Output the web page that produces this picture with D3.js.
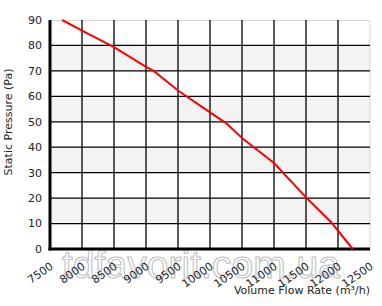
<!DOCTYPE html>
<html>
<head>
<meta charset="utf-8">
<script src="https://cdn.jsdelivr.net/npm/d3@7"></script>
<style>
  body { margin: 0; background: #fff; }
  svg { display: block; font-family: "DejaVu Sans", sans-serif; }
</style>
</head>
<body>
<div class="chart"></div>
<script>
'use strict';
(function() {
  // Data
  var flowRate = [7690, 8000, 8500, 9000, 9120, 9500, 10000, 10250, 10500, 11000, 11500, 11900, 12230];
  var pressure = [90, 85.8, 79.3, 71.6, 70, 62.3, 53.7, 49.5, 43.6, 33.8, 20.3, 10.3, 0];
  var xTicks = [7500, 8000, 8500, 9000, 9500, 10000, 10500, 11000, 11500, 12000, 12500];
  var yTicks = [0, 10, 20, 30, 40, 50, 60, 70, 80, 90];

  var w = 382;
  var h = 306;
  var left = 50, right = 370, top = 20, bottom = 249;

  var svg = d3.select(".chart")
    .append("svg")
    .attr("width", w)
    .attr("height", h);

  var xScale = d3.scaleLinear().domain([7500, 12500]).range([left, right]);
  var yScale = d3.scaleLinear().domain([0, 90]).range([bottom, top]);

  // Alternating bands
  svg.append("g")
    .selectAll("rect")
    .data(yTicks.slice(0, -1).filter(function(d) { return (d / 10) % 2 === 1; }))
    .enter()
    .append("rect")
    .attr("x", left)
    .attr("width", right - left)
    .attr("y", function(d) { return yScale(d + 10); })
    .attr("height", function(d) { return yScale(d) - yScale(d + 10); })
    .attr("fill", "#f3f3f3");

  // Frame
  svg.append("rect")
    .attr("x", left + 0.5)
    .attr("y", top + 0.5)
    .attr("width", right - left - 0.5)
    .attr("height", bottom - top)
    .attr("fill", "none")
    .attr("stroke", "#d8d8d8");

  // Grid
  var grid = svg.append("g").attr("stroke", "#000").attr("stroke-width", 1.3);
  grid.selectAll("line.v")
    .data(xTicks.slice(1, -1))
    .enter()
    .append("line")
    .attr("x1", function(d) { return xScale(d); })
    .attr("x2", function(d) { return xScale(d); })
    .attr("y1", top)
    .attr("y2", bottom);
  grid.selectAll("line.h")
    .data(yTicks.slice(1, -1))
    .enter()
    .append("line")
    .attr("x1", left)
    .attr("x2", right)
    .attr("y1", function(d) { return yScale(d); })
    .attr("y2", function(d) { return yScale(d); });

  // Watermark
  svg.append("text")
    .attr("x", 62)
    .attr("y", 278)
    .attr("textLength", 278)
    .attr("lengthAdjust", "spacingAndGlyphs")
    .attr("font-family", "Liberation Sans, sans-serif")
    .attr("font-size", 38)
    .attr("fill", "#fff")
    .attr("stroke", "#bdbdbd")
    .attr("stroke-width", 1)
    .text("tdfavorit.com.ua");

  // Axes lines
  svg.append("line")
    .attr("x1", left).attr("x2", left)
    .attr("y1", top).attr("y2", bottom + 1.5)
    .attr("stroke", "#000").attr("stroke-width", 3);
  svg.append("line")
    .attr("x1", left - 1.5).attr("x2", right)
    .attr("y1", bottom).attr("y2", bottom)
    .attr("stroke", "#000").attr("stroke-width", 3);

  // Y tick labels
  svg.append("g")
    .selectAll("text")
    .data(yTicks)
    .enter()
    .append("text")
    .attr("x", 42)
    .attr("y", function(d) { return yScale(d); })
    .attr("dy", "0.35em")
    .attr("text-anchor", "end")
    .attr("font-size", 11)
    .attr("fill", "#222")
    .text(function(d) { return d; });

  // X tick labels
  svg.append("g")
    .selectAll("text")
    .data(xTicks)
    .enter()
    .append("text")
    .attr("transform", function(d) {
      return "translate(" + (xScale(d) + 4) + "," + 268 + ") rotate(-35)";
    })
    .attr("text-anchor", "end")
    .attr("font-size", 11)
    .attr("fill", "#222")
    .text(function(d) { return d; });

  // Axis titles
  svg.append("text")
    .attr("x", right)
    .attr("y", 294)
    .attr("text-anchor", "end")
    .attr("font-size", 11)
    .attr("fill", "#222")
    .text("Volume Flow Rate (m\u00b3/h)");
  svg.append("text")
    .attr("transform", "translate(12,122) rotate(-90)")
    .attr("text-anchor", "middle")
    .attr("font-size", 11)
    .attr("fill", "#222")
    .text("Static Pressure (Pa)");

  // Curve
  var line = d3.line()
    .x(function(d, i) { return xScale(flowRate[i]); })
    .y(function(d) { return yScale(d); });
  svg.append("path")
    .attr("d", line(pressure))
    .attr("fill", "none")
    .attr("stroke", "#ff0000")
    .attr("stroke-width", 2);
})();
</script>
</body>
</html>
